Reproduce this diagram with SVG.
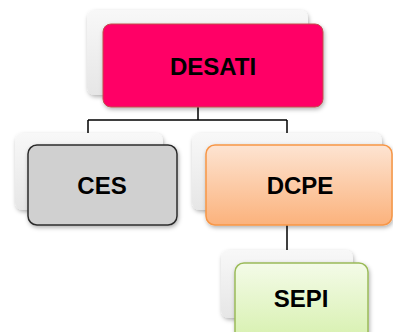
<svg xmlns="http://www.w3.org/2000/svg" width="393" height="332" viewBox="0 0 393 332">
<defs>
<linearGradient id="gBack" x1="0" y1="0" x2="0" y2="1">
<stop offset="0" stop-color="#f8f8f8"/><stop offset="1" stop-color="#e6e6e6"/>
</linearGradient>
<linearGradient id="gOrange" x1="0" y1="0" x2="0" y2="1">
<stop offset="0" stop-color="#fde4d2"/><stop offset="1" stop-color="#fbb27c"/>
</linearGradient>
<linearGradient id="gGreen" x1="0" y1="0" x2="0" y2="1">
<stop offset="0" stop-color="#f4fbe8"/><stop offset="1" stop-color="#d6f0ad"/>
</linearGradient>
<filter id="sh" x="-10%" y="-10%" width="130%" height="140%">
<feDropShadow dx="1" dy="2" stdDeviation="2" flood-color="#000" flood-opacity="0.3"/>
</filter>
</defs>
<style>
.back{fill:url(#gBack);filter:url(#sh)}
.lbl{font-family:"Liberation Sans",Arial,sans-serif;font-weight:bold;font-size:24px;text-anchor:middle;fill:#000}
.conn{stroke:#000;stroke-width:1.5;fill:none}
</style>
<g id="connectors">
<path class="conn" d="M198,107 V120 M88,120 H287 M88,120 V133 M287,120 V133 M287,225 V250"/>
</g>
<g id="desati">
<rect class="back" x="87" y="10" width="221" height="85" rx="8"/>
<rect x="103" y="24" width="220" height="83" rx="8" fill="#ff0066" stroke="#c0504d" stroke-width="1" filter="url(#sh)"/>
<text class="lbl" x="213" y="75">DESATI</text>
</g>
<g id="ces">
<rect class="back" x="15" y="133" width="148" height="77" rx="8"/>
<rect x="28" y="145" width="149" height="80" rx="9" fill="#d0d0d0" stroke="#2b2b2b" stroke-width="1.5" filter="url(#sh)"/>
<text class="lbl" x="102" y="194">CES</text>
</g>
<g id="dcpe">
<rect class="back" x="192" y="133" width="190" height="77" rx="8"/>
<rect x="206" y="145" width="186" height="80" rx="9" fill="url(#gOrange)" stroke="#f79646" stroke-width="1.5" filter="url(#sh)"/>
<text class="lbl" x="300" y="194">DCPE</text>
</g>
<g id="sepi">
<rect class="back" x="221" y="250" width="132" height="68" rx="8"/>
<rect x="235" y="263" width="133" height="80" rx="9" fill="url(#gGreen)" stroke="#9bbb59" stroke-width="1.5" filter="url(#sh)"/>
<text class="lbl" x="301" y="307">SEPI</text>
</g>
</svg>
